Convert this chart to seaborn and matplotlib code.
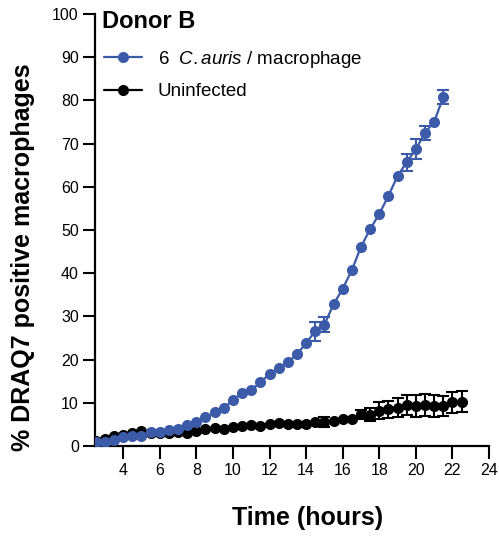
import numpy as np
import pandas as pd
import matplotlib
matplotlib.use("Agg")
import matplotlib.pyplot as plt
import seaborn as sns

# ---- data ----
time_infected = [2.5, 3.0, 3.5, 4.0, 4.5, 5.0, 5.5, 6.0, 6.5, 7.0,
                 7.5, 8.0, 8.5, 9.0, 9.5, 10.0, 10.5, 11.0, 11.5, 12.0,
                 12.5, 13.0, 13.5, 14.0, 14.5, 15.0, 15.5, 16.0, 16.5, 17.0,
                 17.5, 18.0, 18.5, 19.0, 19.5, 20.0, 20.5, 21.0, 21.5]
infected = [1.0, 0.85, 1.4, 2.0, 2.2, 2.4, 3.3, 3.3, 3.6, 3.9,
            4.9, 5.5, 6.6, 7.8, 8.8, 10.6, 12.3, 13.0, 14.7, 16.7,
            18.1, 19.4, 21.2, 23.8, 26.6, 28.1, 32.8, 36.4, 40.7, 46.1,
            50.2, 53.7, 57.9, 62.5, 65.7, 68.7, 72.5, 75.0, 80.8]
infected_err = [0, 0, 0, 0, 0, 0, 0, 0, 0, 0,
                0, 0, 0, 0, 0, 0, 0, 0, 0, 0,
                0, 0, 0, 0, 2.2, 1.8, 0, 0, 0, 0,
                0, 0, 0, 0, 2.0, 2.3, 1.6, 0, 1.7]

time_uninf = [2.5, 3.0, 3.5, 4.0, 4.5, 5.0, 5.5, 6.0, 6.5, 7.0,
              7.5, 8.0, 8.5, 9.0, 9.5, 10.0, 10.5, 11.0, 11.5, 12.0,
              12.5, 13.0, 13.5, 14.0, 14.5, 15.0, 15.5, 16.0, 16.5, 17.0,
              17.5, 18.0, 18.5, 19.0, 19.5, 20.0, 20.5, 21.0, 21.5, 22.0, 22.5]
uninf = [1.2, 1.7, 2.3, 2.6, 2.9, 3.4, 3.1, 3.0, 3.1, 3.2,
         3.1, 3.5, 3.9, 4.2, 4.0, 4.3, 4.6, 4.9, 4.6, 5.0,
         5.3, 5.0, 5.0, 5.2, 5.5, 5.5, 5.8, 6.3, 6.3, 7.3,
         7.2, 8.2, 8.5, 8.8, 9.4, 9.2, 9.5, 9.3, 9.2, 10.1, 10.3]
uninf_err = [0, 0, 0, 0, 0, 0, 0, 0, 0, 0,
             0, 0, 0, 0, 0, 0, 0, 0, 0, 0,
             0, 0, 0, 0, 0, 1.2, 0, 0, 0, 1.0,
             1.5, 2.0, 2.0, 2.2, 2.3, 2.5, 2.5, 2.5, 2.3, 2.5, 2.5]

x_ticks = [4, 6, 8, 10, 12, 14, 16, 18, 20, 22, 24]
y_ticks = [0, 10, 20, 30, 40, 50, 60, 70, 80, 90, 100]

BLUE = "#3B5BA9"
BLACK = "#000000"

sns.set_theme(style="ticks")
plt.rcParams["font.family"] = ["Liberation Sans", "DejaVu Sans"]
plt.rcParams["mathtext.fontset"] = "custom"
plt.rcParams["mathtext.it"] = "Liberation Sans:italic"
plt.rcParams["mathtext.rm"] = "Liberation Sans"
plt.rcParams["text.color"] = "black"
plt.rcParams["axes.labelcolor"] = "black"

df_inf = pd.DataFrame({"time": time_infected, "val": infected, "err": infected_err})
df_un = pd.DataFrame({"time": time_uninf, "val": uninf, "err": uninf_err})

fig = plt.figure(figsize=(4.99, 5.38), dpi=100)
ax = fig.add_axes([0.19, 0.171, 0.79, 0.803])


def draw(df, color, z):
    e = df[df["err"] > 0]
    ax.errorbar(e["time"], e["val"], yerr=e["err"], fmt="none", ecolor=color,
                elinewidth=1.5, capsize=4, capthick=1.5, zorder=z)
    sns.lineplot(data=df, x="time", y="val", ax=ax, color=color, marker="o",
                 markersize=8, markeredgewidth=0, linewidth=1.6, zorder=z + 1)


draw(df_un, BLACK, 2)
draw(df_inf, BLUE, 4)

lines = ax.get_lines()
h_un = [l for l in lines if l.get_color() == BLACK][0]
h_inf = [l for l in lines if l.get_color() == BLUE][0]
leg = ax.legend([h_inf, h_un], ["6  $\\it{C.auris}$ / macrophage", "Uninfected"],
                loc="upper left", bbox_to_anchor=(-0.005, 0.945), frameon=False,
                handlelength=2.0, handletextpad=0.85, fontsize=13.5,
                labelspacing=0.7, borderaxespad=0.2)
for t in leg.get_texts():
    t.set_color("black")

ax.text(0.018, 1.01, "Donor B", transform=ax.transAxes, fontsize=17,
        fontweight="bold", va="top", ha="left", color="black")

ax.set_xlim(2.45, 24)
ax.set_ylim(0, 100)
ax.set_xticks(x_ticks)
ax.set_yticks(y_ticks)
ax.tick_params(axis="both", labelsize=11.5, width=1.5, length=8.5, color="black",
               direction="out", labelcolor="black", pad=3)
ax.tick_params(axis="x", length=9.5)
for s in ["left", "bottom"]:
    ax.spines[s].set_linewidth(1.6)
    ax.spines[s].set_color("black")
sns.despine(ax=ax)

ax.set_xlabel("Time (hours)", fontsize=18, fontweight="bold", color="black")
ax.set_ylabel("% DRAQ7 positive macrophages", fontsize=18, fontweight="bold",
              color="black")
ax.xaxis.set_label_coords(0.54, -0.138)
ax.yaxis.set_label_coords(-0.152, 0.4375)

fig.savefig("out.png", dpi=100)
